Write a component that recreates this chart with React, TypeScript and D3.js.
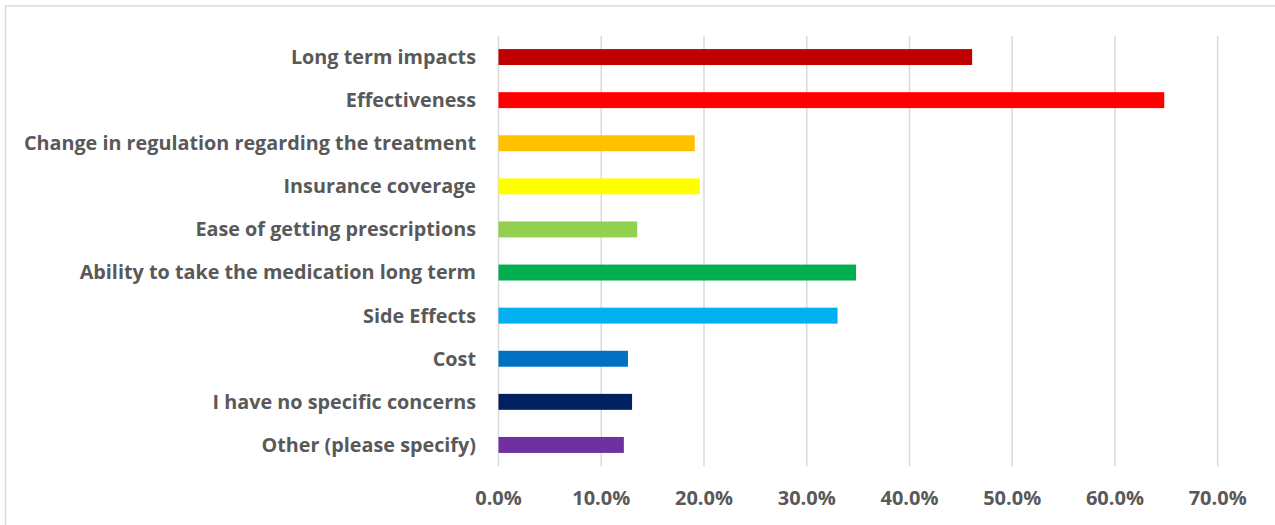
import * as d3 from 'd3'

const categories = [
  'Long term impacts',
  'Effectiveness',
  'Change in regulation regarding the treatment',
  'Insurance coverage',
  'Ease of getting prescriptions',
  'Ability to take the medication long term',
  'Side Effects',
  'Cost',
  'I have no specific concerns',
  'Other (please specify)',
]
const values = [0.461, 0.648, 0.191, 0.196, 0.135, 0.348, 0.330, 0.126, 0.130, 0.122]
const colors = ['#C00000', '#FF0000', '#FFC000', '#FFFF00', '#92D050', '#00B050', '#00B0F0', '#0070C0', '#002060', '#7030A0']
const ticks = [0, 0.1, 0.2, 0.3, 0.4, 0.5, 0.6, 0.7]

const W = 1275
const H = 525
const font = '"Open Sans", "Liberation Sans", sans-serif'

const App = () => {
  const xScale = d3.scaleLinear().domain([0, 0.7]).range([498.5, 1217.7])
  const yScale = d3.scaleBand()
    .domain(categories)
    .range([35.5, 466.5])
    .paddingInner(0.63)
    .paddingOuter(0.315)

  const fmt = d3.format('.1%')

  return (
    <svg width={W} height={H} style={{ position: 'absolute', left: 0, top: 0, background: '#fff' }}>
      <rect x={5.5} y={6} width={W + 10} height={H + 10} fill="#fff" stroke="#d9d9d9" strokeWidth={1.5} />
      {ticks.map(t => (
        <line key={'g' + t} x1={xScale(t)} x2={xScale(t)} y1={36} y2={466.5} stroke="#d9d9d9" strokeWidth={1.5} />
      ))}
      {categories.map((c, i) => (
        <rect
          key={c}
          x={xScale(0)}
          y={yScale(c)}
          width={xScale(values[i]) - xScale(0)}
          height={yScale.bandwidth()}
          fill={colors[i]}
        />
      ))}
      {categories.map(c => (
        <text
          key={'l' + c}
          x={476}
          y={(yScale(c) ?? 0) + yScale.bandwidth() / 2}
          dy="0.35em"
          textAnchor="end"
          fontFamily={font}
          fontWeight={700}
          fontSize={19.8}
          fill="#595959"
        >
          {c}
        </text>
      ))}
      {ticks.map(t => (
        <text
          key={'t' + t}
          x={xScale(t)}
          y={497.5}
          dy="0.35em"
          textAnchor="middle"
          fontFamily={font}
          fontWeight={700}
          fontSize={20}
          fill="#595959"
        >
          {fmt(t)}
        </text>
      ))}
    </svg>
  )
}

export default App
